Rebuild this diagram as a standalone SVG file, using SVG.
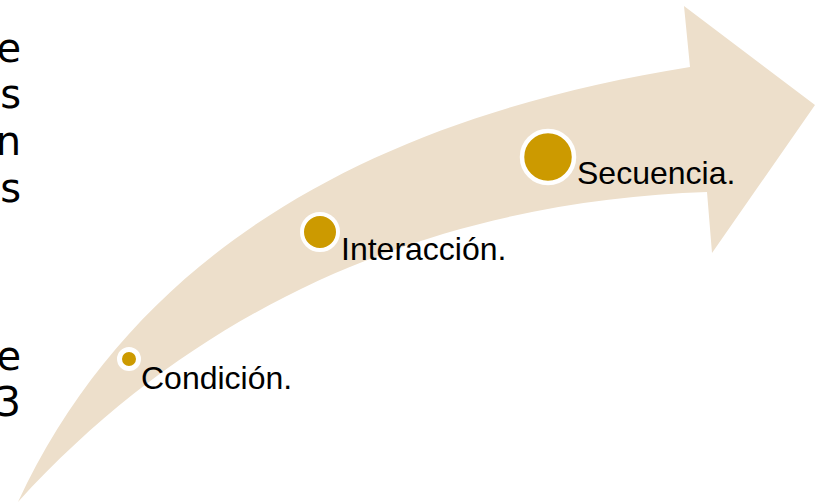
<svg xmlns="http://www.w3.org/2000/svg" width="825" height="503" viewBox="0 0 825 503">
<style>
.side{font-family:"DejaVu Sans","Open Sans",sans-serif;font-size:40px;fill:#000;text-anchor:end}
.lbl{font-family:"Liberation Sans",Arial,sans-serif;font-size:32px;fill:#000}
.ring{fill:#CC9A00;stroke:#fff}
</style>
<rect width="825" height="503" fill="#fff"/>
<g id="side-text">
<text class="side" x="21" y="62">e</text>
<text class="side" x="21" y="108">s</text>
<text class="side" x="21" y="155">n</text>
<text class="side" x="21" y="202">s</text>
<text class="side" x="21" y="370">e</text>
<text class="side" x="21" y="416">3</text>
</g>
<g id="arrow">
<path d="M18,502 C140,240 390,115 690,67 L684,6 L815,105 L712,253 L707,192 C480,200 225,275 18,502 Z" fill="#EDDFCB"/>
</g>
<g id="condicion">
<circle class="ring" cx="129" cy="359" r="9.5" stroke-width="5"/>
<text class="lbl" x="141" y="389">Condición.</text>
</g>
<g id="interaccion">
<circle class="ring" cx="320" cy="232" r="18" stroke-width="4"/>
<text class="lbl" x="341" y="260">Interacción.</text>
</g>
<g id="secuencia">
<circle class="ring" cx="548" cy="157" r="26" stroke-width="4.5"/>
<text class="lbl" x="577" y="184">Secuencia.</text>
</g>
</svg>
